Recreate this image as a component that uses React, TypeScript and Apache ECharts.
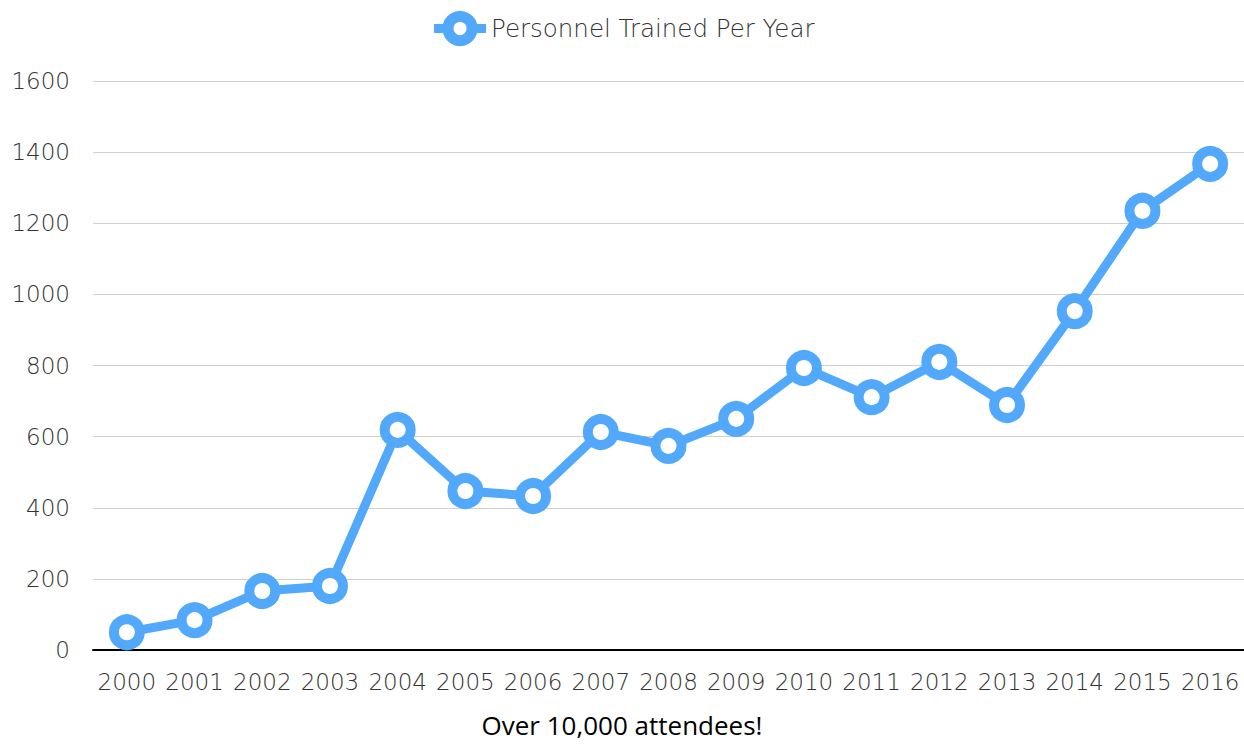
import React, { useEffect, useRef } from "react";
import * as echarts from "echarts";

const years = ["2000","2001","2002","2003","2004","2005","2006","2007","2008","2009","2010","2011","2012","2013","2014","2015","2016"];
const trained = [50, 84, 166, 180, 619, 447, 433, 613, 574, 650, 793, 711, 810, 689, 953, 1235, 1367];
const seriesName = "Personnel Trained Per Year";
const footnote = "Over 10,000 attendees!";

export default function App() {
  const ref = useRef<HTMLDivElement>(null);
  useEffect(() => {
    if (!ref.current) return;
    const chart = echarts.init(ref.current, null, { renderer: "svg" });
    const blue = "#52a8fb";
    const font = "DejaVu Sans";
    chart.setOption({
      animation: false,
      backgroundColor: "#ffffff",
      textStyle: { fontFamily: font },
      legend: {
        top: 6,
        left: "center",
        itemWidth: 52,
        itemHeight: 30,
        itemGap: 6,
        textStyle: { fontSize: 24.5, color: "#333333", fontFamily: font, fontWeight: 200 },
        data: [
          {
            name: seriesName,
            itemStyle: { color: "#ffffff", borderColor: blue, borderWidth: 11 },
            lineStyle: { color: blue, width: 9 },
          },
        ],
      },
      title: {
        text: footnote,
        left: "center",
        top: 711,
        textStyle: { fontSize: 26, lineHeight: 28, fontWeight: "normal", color: "#000", fontFamily: "Open Sans" },
        padding: 0,
      },
      grid: { left: 93, right: 0, top: 81, bottom: 96, containLabel: false },
      xAxis: {
        type: "category",
        data: years,
        boundaryGap: true,
        axisLine: { lineStyle: { color: "#000", width: 2 } },
        axisTick: { show: false },
        axisLabel: { interval: 0, fontSize: 23, color: "#333333", margin: 20, fontFamily: font, fontWeight: 200 },
      },
      yAxis: {
        type: "value",
        min: 0,
        max: 1600,
        interval: 200,
        axisLine: { show: false },
        axisTick: { show: false },
        splitLine: { lineStyle: { color: "#cfcfcf", width: 1 } },
        axisLabel: {
          fontSize: 23,
          color: "#333333",
          margin: 23,
          fontFamily: font,
          fontWeight: 200,
          formatter: (v: number) => String(v),
        },
      },
      series: [
        {
          name: seriesName,
          type: "line",
          data: trained,
          symbol: "circle",
          symbolSize: 26,
          lineStyle: { color: blue, width: 9 },
          itemStyle: { color: "#ffffff", borderColor: blue, borderWidth: 10 },
        },
      ],
    });
    return () => chart.dispose();
  }, []);
  return (
    <div
      ref={ref}
      style={{ position: "fixed", left: 0, top: 0, width: 1244, height: 746 }}
    />
  );
}
